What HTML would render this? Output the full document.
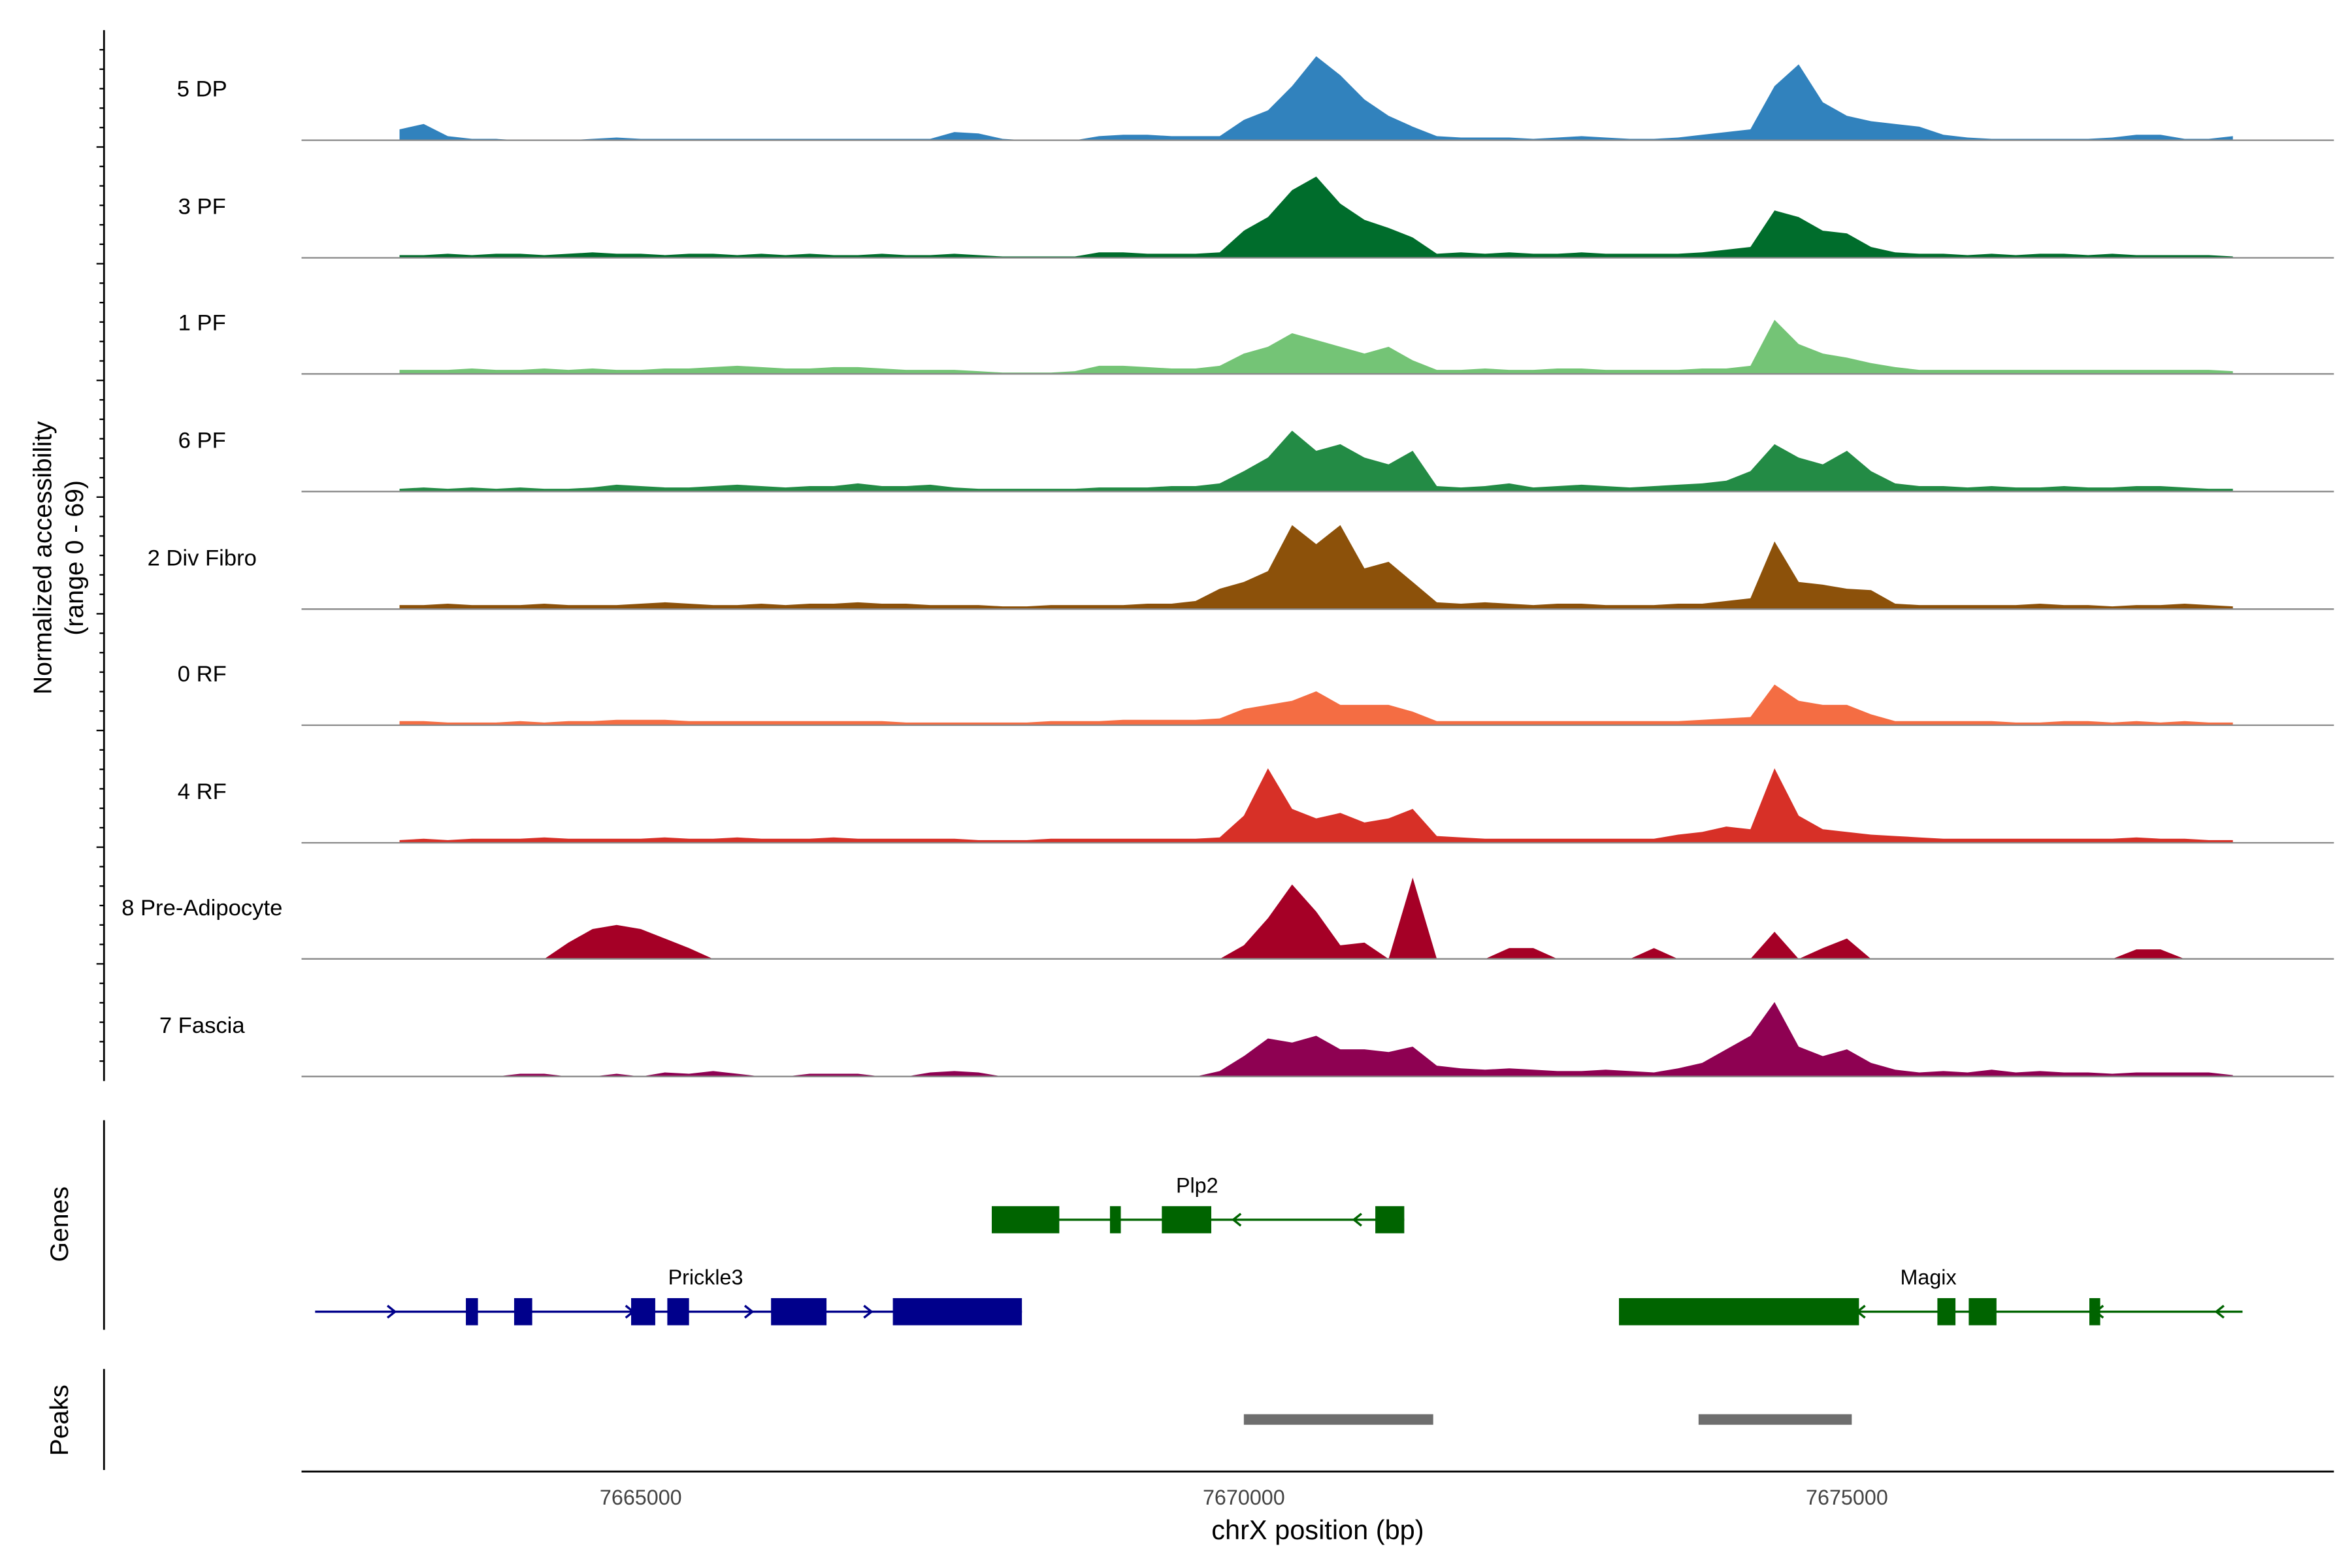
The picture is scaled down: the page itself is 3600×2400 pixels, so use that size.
<!DOCTYPE html>
<html><head><meta charset="utf-8"><style>
html,body{margin:0;padding:0;background:#fff}
svg{display:block}
text{font-family:"Liberation Sans",Arial,sans-serif}
</style></head><body>
<svg id="chart" width="3600" height="2400" viewBox="0 0 1560 1040" xmlns="http://www.w3.org/2000/svg">
<g id="tracks"></g>
<line x1="69" y1="20" x2="69" y2="717" stroke="#000" stroke-width="1.2"/>
<g id="yticks"></g>
<text transform="translate(34,370) rotate(-90)" text-anchor="middle" font-size="17">Normalized accessibility</text>
<text transform="translate(55,370) rotate(-90)" text-anchor="middle" font-size="17">(range 0 - 69)</text>

<line x1="69" y1="743" x2="69" y2="882" stroke="#000" stroke-width="1.2"/>
<text transform="translate(45,812) rotate(-90)" text-anchor="middle" font-size="17">Genes</text>
<g id="genes"></g>

<line x1="69" y1="908" x2="69" y2="975" stroke="#000" stroke-width="1.2"/>
<text transform="translate(45,942) rotate(-90)" text-anchor="middle" font-size="17">Peaks</text>
<g id="peaks"></g>

<line x1="200" y1="976" x2="1548" y2="976" stroke="#000" stroke-width="1.2"/>
<g id="xticks"></g>
<text x="874" y="1021" text-anchor="middle" font-size="18">chrX position (bp)</text>
</svg>
<script>
const NS="http://www.w3.org/2000/svg";
const trackNames=["5 DP","3 PF","1 PF","6 PF","2 Div Fibro","0 RF","4 RF","8 Pre-Adipocyte","7 Fascia"];
const trackColors=["#3182bd","#006d2c","#74c476","#238b45","#8c510a","#f46d43","#d73027","#a50026","#8e0152"];
const binStart=7663000;
const binSize=200;
const covDP=[8,12,3,1,1,0,0,0,1,2,1,1,1,1,1,1,1,1,1,1,1,1,1,6,5,1,0,0,0,3,4,4,3,3,3,15,22,40,62,48,30,18,10,3,2,2,2,1,2,3,2,1,1,2,4,6,8,40,56,28,18,14,12,10,4,2,1,1,1,1,1,2,4,4,1,1,3];
const covPF3=[2,2,3,2,3,3,2,3,4,3,3,2,3,3,2,3,2,3,2,2,3,2,2,3,2,1,1,1,1,4,4,3,3,3,4,20,30,50,60,40,28,22,15,3,4,3,4,3,3,4,3,3,3,3,4,6,8,35,30,20,18,8,4,3,3,2,3,2,3,3,2,3,2,2,2,2,1];
const covPF1=[3,3,3,4,3,3,4,3,4,3,3,4,4,5,6,5,4,4,5,5,4,3,3,3,2,1,1,1,2,6,6,5,4,4,6,15,20,30,25,20,15,20,10,3,3,4,3,3,4,4,3,3,3,3,4,4,6,40,22,15,12,8,5,3,3,3,3,3,3,3,3,3,3,3,3,3,2];
const covPF6=[2,3,2,3,2,3,2,2,3,5,4,3,3,4,5,4,3,4,4,6,4,4,5,3,2,2,2,2,2,3,3,3,4,4,6,15,25,45,30,35,25,20,30,4,3,4,6,3,4,5,4,3,4,5,6,8,15,35,25,20,30,15,6,4,4,3,4,3,3,4,3,3,4,4,3,2,2];
const covDF=[3,3,4,3,3,3,4,3,3,3,4,5,4,3,3,4,3,4,4,5,4,4,3,3,3,2,2,3,3,3,3,4,4,6,15,20,28,62,48,62,30,35,20,5,4,5,4,3,4,4,3,3,3,4,4,6,8,50,20,18,15,14,4,3,3,3,3,3,4,3,3,2,3,3,4,3,2];
const covRF0=[3,3,2,2,2,3,2,3,3,4,4,4,3,3,3,3,3,3,3,3,3,2,2,2,2,2,2,3,3,3,4,4,4,4,5,12,15,18,25,15,15,15,10,3,3,3,3,3,3,3,3,3,3,3,4,5,6,30,18,15,15,8,3,3,3,3,3,2,2,3,3,2,3,2,3,2,2];
const covRF4=[2,3,2,3,3,3,4,3,3,3,3,4,3,3,4,3,3,3,4,3,3,3,3,3,2,2,2,3,3,3,3,3,3,3,4,20,55,25,18,22,15,18,25,5,4,3,3,3,3,3,3,3,3,6,8,12,10,55,20,10,8,6,5,4,3,3,3,3,3,3,3,3,4,3,3,2,2];
const covPA=[0,0,0,0,0,0,0,12,22,25,22,15,8,0,0,0,0,0,0,0,0,0,0,0,0,0,0,0,0,0,0,0,0,0,0,10,30,55,35,10,12,0,60,0,0,0,8,8,0,0,0,0,8,0,0,0,0,20,0,8,15,0,0,0,0,0,0,0,0,0,0,0,7,7,0,0,0];
const covFA=[0,0,0,0,0,2,2,0,0,2,0,3,2,4,2,0,0,2,2,2,0,0,3,4,3,0,0,0,0,0,0,0,0,0,4,15,28,25,30,20,20,18,22,8,6,5,6,5,4,4,5,4,3,6,10,20,30,55,22,15,20,10,5,3,4,3,5,3,4,3,3,2,3,3,3,3,1];
const covAll=[covDP,covPF3,covPF1,covPF6,covDF,covRF0,covRF4,covPA,covFA];
const trackBaselines=[93,171,248,326,404,481,559,636,714];
const xTicks=[7665000,7670000,7675000];
const prickleExons=[[7663550,7663650],[7663950,7664100],[7664920,7665120],[7665220,7665400],[7666080,7666540],[7667090,7668160]];
const plp2Exons=[[7667910,7668470],[7668890,7668980],[7669320,7669730],[7671090,7671330]];
const magixExons=[[7673110,7675100],[7675750,7675900],[7676010,7676240],[7677010,7677100]];
const peakRanges=[[7670000,7671570],[7673770,7675040]];

const xs=bp=>425+(bp-7665000)*0.08;
const ys=(v,base)=>base-v*(62/69);

const tg=document.getElementById('tracks');
covAll.forEach((arr,t)=>{
  const base=trackBaselines[t];
  let d="M"+xs(binStart)+","+base;
  arr.forEach((v,i)=>{d+=" L"+xs(binStart+i*binSize).toFixed(1)+","+ys(v,base).toFixed(1);});
  d+=" L"+xs(binStart+(arr.length-1)*binSize)+","+base+" Z";
  const p=document.createElementNS(NS,'path');
  p.setAttribute('d',d);p.setAttribute('fill',trackColors[t]);
  
  
  tg.appendChild(p);
  const l=document.createElementNS(NS,'line');
  l.setAttribute('x1',200);l.setAttribute('x2',1548);l.setAttribute('y1',base);l.setAttribute('y2',base);
  l.setAttribute('stroke','#888');l.setAttribute('stroke-width','1');
  
  
  tg.appendChild(l);
  const tx=document.createElementNS(NS,'text');
  tx.setAttribute('x',134);tx.setAttribute('y',base-29);tx.setAttribute('text-anchor','middle');tx.setAttribute('font-size','15');
  tx.textContent=trackNames[t];
  
  
  tg.appendChild(tx);
});
const yt=document.getElementById('yticks');
for(let y=33;y<=714;y+=12.9){
  const l=document.createElementNS(NS,'line');
  const major=Math.round((y-33)/12.9)%6===5;
  l.setAttribute('x1',major?64:66);l.setAttribute('x2',69);l.setAttribute('y1',y);l.setAttribute('y2',y);
  l.setAttribute('stroke','#000');l.setAttribute('stroke-width','1');
  
  
  yt.appendChild(l);
}
const xt=document.getElementById('xticks');
xTicks.forEach(v=>{
  const tx=document.createElementNS(NS,'text');
  tx.setAttribute('x',xs(v));tx.setAttribute('y',998);tx.setAttribute('text-anchor','middle');tx.setAttribute('font-size','14');tx.setAttribute('fill','#444');
  tx.textContent=v;
  
  
  xt.appendChild(tx);
});
const gg=document.getElementById('genes');
function gene(name,color,x1,x2,y,exons,arrows,dir,lx,ly){
  const l=document.createElementNS(NS,'line');
  l.setAttribute('x1',xs(x1));l.setAttribute('x2',xs(x2));l.setAttribute('y1',y);l.setAttribute('y2',y);
  l.setAttribute('stroke',color);l.setAttribute('stroke-width','1.5');
  
  
  gg.appendChild(l);
  exons.forEach(e=>{
    const r=document.createElementNS(NS,'rect');
    r.setAttribute('x',xs(e[0]));r.setAttribute('width',xs(e[1])-xs(e[0]));r.setAttribute('y',y-9);r.setAttribute('height',18);r.setAttribute('fill',color);
    
    
    gg.appendChild(r);
  });
  arrows.forEach(a=>{
    const p=document.createElementNS(NS,'path');
    const x=a;
    p.setAttribute('d',dir>0?`M${x-5},${y-4} L${x},${y} L${x-5},${y+4}`:`M${x+5},${y-4} L${x},${y} L${x+5},${y+4}`);
    p.setAttribute('stroke',color);p.setAttribute('fill','none');p.setAttribute('stroke-width','1.5');
    
    
    gg.appendChild(p);
  });
  const tx=document.createElementNS(NS,'text');
  tx.setAttribute('x',lx);tx.setAttribute('y',ly);tx.setAttribute('text-anchor','middle');tx.setAttribute('font-size','14');
  tx.textContent=name;
  
  
  gg.appendChild(tx);
}
gene("Plp2","#006400",7667910,7671330,809,plp2Exons,[818,898],-1,794,791);
gene("Prickle3","#00008b",7662300,7668160,870,prickleExons,[262,420,499,578],1,468,852);
gene("Magix","#006400",7673110,7678280,870,magixExons,[1232,1390,1470],-1,1279,852);
const pg=document.getElementById('peaks');
peakRanges.forEach(p=>{
  const r=document.createElementNS(NS,'rect');
  r.setAttribute('x',xs(p[0]));r.setAttribute('width',xs(p[1])-xs(p[0]));r.setAttribute('y',938);r.setAttribute('height',7);r.setAttribute('fill','#6e6e6e');
  
  
  pg.appendChild(r);
});
</script>
</body></html>
